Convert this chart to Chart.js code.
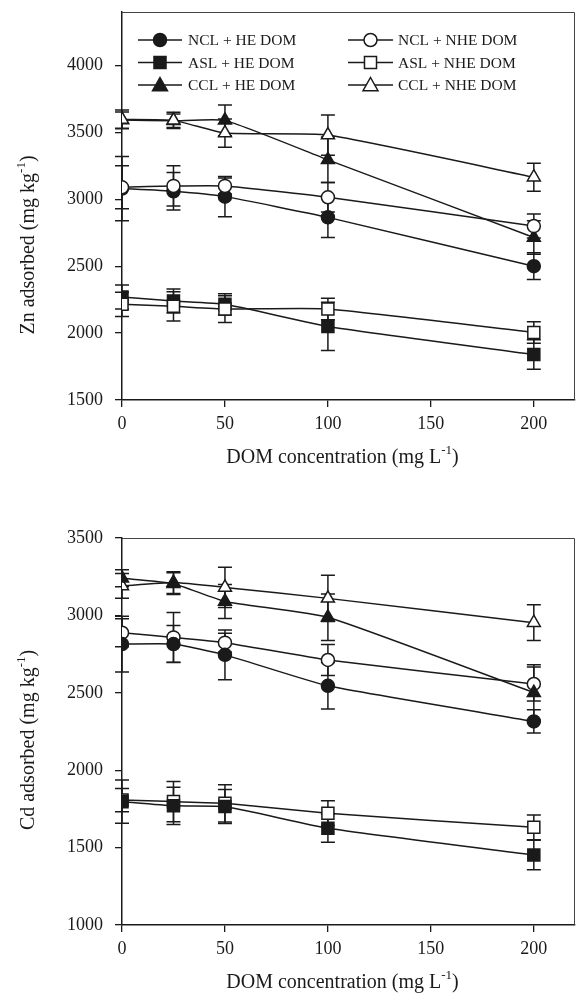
<!doctype html>
<html>
  <head>
    <title>Zn and Cd adsorption vs DOM</title>
    <script src="https://cdn.jsdelivr.net/npm/chart.js@4.4.1/dist/chart.umd.min.js"></script>
    <style>
      body { margin: 0; background: #fff; }
      canvas { display: block; }
    </style>
  </head>
  <body>
    <canvas id="zn" width="576" height="500"></canvas>
    <canvas id="cd" width="576" height="503"></canvas>
  </body>
  <script>
    const doseLevels = [0, 25, 50, 100, 200];
    const xTicks = [0, 50, 100, 150, 200];

    const seriesNames = ['NCL + HE DOM', 'NCL + NHE DOM', 'ASL + HE DOM', 'ASL + NHE DOM', 'CCL + HE DOM', 'CCL + NHE DOM'];

    // Zn adsorbed (mg/kg) and error bars
    const znNclHe = [3080, 3060, 3020, 2865, 2500];
    const znNclHeErr = [240, 140, 150, 150, 100];
    const znNclNhe = [3090, 3100, 3100, 3015, 2800];
    const znNclNheErr = [160, 150, 60, 110, 90];
    const znAslHe = [2270, 2240, 2215, 2050, 1840];
    const znAslHeErr = [90, 90, 80, 180, 110];
    const znAslNhe = [2215, 2200, 2180, 2180, 2005];
    const znAslNheErr = [90, 110, 100, 80, 80];
    const znCclHe = [3592, 3587, 3590, 3295, 2715];
    const znCclHeErr = [60, 50, 115, 170, 125];
    const znCclNhe = [3597, 3590, 3495, 3480, 3165];
    const znCclNheErr = [70, 60, 105, 150, 105];
    const znYTicks = [1500, 2000, 2500, 3000, 3500, 4000];

    // Cd adsorbed (mg/kg) and error bars
    const cdNclHe = [2815, 2815, 2745, 2545, 2315];
    const cdNclHeErr = [180, 120, 160, 150, 75];
    const cdNclNhe = [2888, 2858, 2824, 2712, 2557];
    const cdNclNheErr = [90, 160, 60, 100, 110];
    const cdAslHe = [1797, 1770, 1765, 1625, 1452];
    const cdAslHeErr = [140, 120, 110, 90, 95];
    const cdAslNhe = [1807, 1797, 1786, 1722, 1631];
    const cdAslNheErr = [75, 130, 120, 80, 80];
    const cdCclHe = [3240, 3205, 3090, 2988, 2501];
    const cdCclHeErr = [55, 70, 110, 150, 180];
    const cdCclNhe = [3190, 3212, 3181, 3110, 2953];
    const cdCclNheErr = [80, 70, 130, 150, 115];
    const cdYTicks = [1000, 1500, 2000, 2500, 3000, 3500];

    const serif = '"Liberation Serif", "Times New Roman", serif';
    const ink = '#1a1a1a';

    // marker look per series (same order as seriesNames)
    const markerStyles = [
      { style: 'circle', radius: 6.5, fill: ink },
      { style: 'circle', radius: 6.5, fill: '#fff' },
      { style: 'rect', radius: 8.5, fill: ink },
      { style: 'rect', radius: 8.5, fill: '#fff' },
      { style: 'triangle', radius: 7.5, fill: ink },
      { style: 'triangle', radius: 7.5, fill: '#fff' },
    ];

    // openOnTop: draw the NHE (open marker) series above the HE ones
    const makeDataset = (i, values, errors, openOnTop) => ({
      label: seriesNames[i],
      data: doseLevels.map((d, k) => ({ x: d, y: values[k] })),
      errors: errors,
      order: openOnTop ? (i % 2 === 1 ? 0 : 1) : (i % 2 === 1 ? 1 : 0),
      borderColor: ink,
      borderWidth: 1.5,
      tension: 0.15,
      pointStyle: markerStyles[i].style,
      pointRadius: markerStyles[i].radius,
      pointBackgroundColor: markerStyles[i].fill,
      pointBorderColor: ink,
      pointBorderWidth: 1.5,
      fill: false,
    });

    const drawMarker = (ctx, m, x, y) => {
      ctx.save();
      ctx.fillStyle = m.fill;
      ctx.strokeStyle = ink;
      ctx.lineWidth = 1.5;
      ctx.beginPath();
      if (m.style === 'circle') {
        ctx.arc(x, y, m.radius, 0, Math.PI * 2);
      } else if (m.style === 'rect') {
        const s = Math.SQRT1_2 * m.radius;
        ctx.rect(x - s, y - s, 2 * s, 2 * s);
      } else {
        const r = m.radius;
        ctx.moveTo(x, y - r);
        ctx.lineTo(x + r * 0.866 * 1.15, y + r * 0.75);
        ctx.lineTo(x - r * 0.866 * 1.15, y + r * 0.75);
        ctx.closePath();
      }
      ctx.fill();
      ctx.stroke();
      ctx.restore();
    };

    // text with a "-1" superscript, centred on (x, y), optionally rotated
    const drawSupTitle = (ctx, before, sup, after, x, y, rotate) => {
      ctx.save();
      ctx.translate(x, y);
      if (rotate) ctx.rotate(-Math.PI / 2);
      ctx.fillStyle = ink;
      ctx.textBaseline = 'middle';
      ctx.textAlign = 'left';
      const mainFont = '20px ' + serif;
      const supFont = '13px ' + serif;
      ctx.font = mainFont;
      const w1 = ctx.measureText(before).width;
      const w3 = ctx.measureText(after).width;
      ctx.font = supFont;
      const w2 = ctx.measureText(sup).width;
      let cx = -(w1 + w2 + w3) / 2;
      ctx.font = mainFont;
      ctx.fillText(before, cx, 0);
      cx += w1;
      ctx.font = supFont;
      ctx.fillText(sup, cx, -7);
      cx += w2;
      ctx.font = mainFont;
      ctx.fillText(after, cx, 0);
      ctx.restore();
    };

    const errorBars = {
      id: 'errorBars',
      beforeDatasetsDraw(chart) {
        const ctx = chart.ctx;
        const ys = chart.scales.y;
        ctx.save();
        ctx.strokeStyle = ink;
        ctx.lineWidth = 1.5;
        chart.data.datasets.forEach((ds, i) => {
          const meta = chart.getDatasetMeta(i);
          meta.data.forEach((pt, k) => {
            const v = ds.data[k].y;
            const e = ds.errors[k];
            const top = ys.getPixelForValue(v + e);
            const bot = ys.getPixelForValue(v - e);
            ctx.beginPath();
            ctx.moveTo(pt.x, top);
            ctx.lineTo(pt.x, bot);
            ctx.moveTo(pt.x - 7, top);
            ctx.lineTo(pt.x + 7, top);
            ctx.moveTo(pt.x - 7, bot);
            ctx.lineTo(pt.x + 7, bot);
            ctx.stroke();
          });
        });
        ctx.restore();
      }
    };

    const frameAndTitles = {
      id: 'frameAndTitles',
      afterDraw(chart, args, opts) {
        const ctx = chart.ctx;
        const a = chart.chartArea;
        ctx.save();
        ctx.strokeStyle = '#444';
        ctx.lineWidth = 1;
        ctx.beginPath();
        ctx.moveTo(a.left, a.top + 0.5);
        ctx.lineTo(a.right - 0.5, a.top + 0.5);
        ctx.lineTo(a.right - 0.5, a.bottom);
        ctx.stroke();
        ctx.restore();
        drawSupTitle(ctx, 'DOM concentration (mg L', '-1', ')', (a.left + a.right) / 2 - 6, opts.xTitleY, false);
        drawSupTitle(ctx, opts.yTitle, '-1', ')', 29, opts.yTitleY, true);
      }
    };

    const legendBox = {
      id: 'legendBox',
      afterDraw(chart, args, opts) {
        if (!opts.show) return;
        const ctx = chart.ctx;
        const rowsY = [40, 62.5, 85];
        const cols = [{ x1: 138, x2: 182, tx: 188 }, { x1: 348, x2: 393, tx: 398 }];
        ctx.save();
        ctx.font = '15.5px ' + serif;
        ctx.fillStyle = ink;
        ctx.textBaseline = 'middle';
        seriesNames.forEach((name, i) => {
          const col = cols[i % 2];
          const y = rowsY[Math.floor(i / 2)];
          ctx.strokeStyle = ink;
          ctx.lineWidth = 1.5;
          ctx.beginPath();
          ctx.moveTo(col.x1, y);
          ctx.lineTo(col.x2, y);
          ctx.stroke();
          drawMarker(ctx, markerStyles[i], (col.x1 + col.x2) / 2, y);
          ctx.fillStyle = ink;
          ctx.fillText(name, col.tx, y + 1);
        });
        ctx.restore();
      }
    };

    const buildOptions = (yMin, yMax, yTicks, padTop, xHeight, titles) => ({
      responsive: false,
      animation: false,
      layout: { autoPadding: false, padding: { top: padTop, right: 1, left: 0, bottom: 0 } },
      plugins: {
        legend: { display: false },
        tooltip: { enabled: false },
        frameAndTitles: titles,
        legendBox: { show: titles.legend },
      },
      scales: {
        x: {
          type: 'linear',
          min: 0,
          max: 220,
          afterFit: (s) => { s.height = xHeight; s.paddingLeft = 0; s.paddingRight = 0; },
          afterBuildTicks: (s) => { s.ticks = xTicks.map(v => ({ value: v })); },
          ticks: { color: ink, font: { family: serif, size: 18 }, padding: 6, callback: (v) => String(v) },
          grid: { drawOnChartArea: false, drawTicks: true, tickLength: 7, color: ink, lineWidth: 1.3 },
          border: { display: true, color: ink, width: 1.5 },
        },
        y: {
          min: yMin,
          max: yMax,
          afterFit: (s) => { s.width = 122; s.paddingTop = 0; s.paddingBottom = 0; },
          afterBuildTicks: (s) => { s.ticks = yTicks.map(v => ({ value: v })); },
          ticks: { color: ink, font: { family: serif, size: 18 }, padding: 12, callback: (v) => String(v) },
          grid: { drawOnChartArea: false, drawTicks: true, tickLength: 7, color: ink, lineWidth: 1.3 },
          border: { display: true, color: ink, width: 1.5 },
        },
      },
    });

    const znChart = new Chart(document.getElementById('zn').getContext('2d'), {
      type: 'line',
      data: {
        datasets: [
          makeDataset(0, znNclHe, znNclHeErr, true),
          makeDataset(1, znNclNhe, znNclNheErr, true),
          makeDataset(2, znAslHe, znAslHeErr, true),
          makeDataset(3, znAslNhe, znAslNheErr, true),
          makeDataset(4, znCclHe, znCclHeErr, true),
          makeDataset(5, znCclNhe, znCclNheErr, true),
        ]
      },
      options: buildOptions(1500, 4400, znYTicks, 12, 100,
        { yTitle: 'Zn adsorbed (mg kg', yTitleY: 245, xTitleY: 458, legend: true }),
      plugins: [errorBars, frameAndTitles, legendBox],
    });

    const cdChart = new Chart(document.getElementById('cd').getContext('2d'), {
      type: 'line',
      data: {
        datasets: [
          makeDataset(0, cdNclHe, cdNclHeErr, false),
          makeDataset(1, cdNclNhe, cdNclNheErr, false),
          makeDataset(2, cdAslHe, cdAslHeErr, false),
          makeDataset(3, cdAslNhe, cdAslNheErr, false),
          makeDataset(4, cdCclHe, cdCclHeErr, false),
          makeDataset(5, cdCclNhe, cdCclNheErr, false),
        ]
      },
      options: buildOptions(1000, 3500, cdYTicks, 38, 78,
        { yTitle: 'Cd adsorbed (mg kg', yTitleY: 240, xTitleY: 483, legend: false }),
      plugins: [errorBars, frameAndTitles, legendBox],
    });
  </script>
</html>
